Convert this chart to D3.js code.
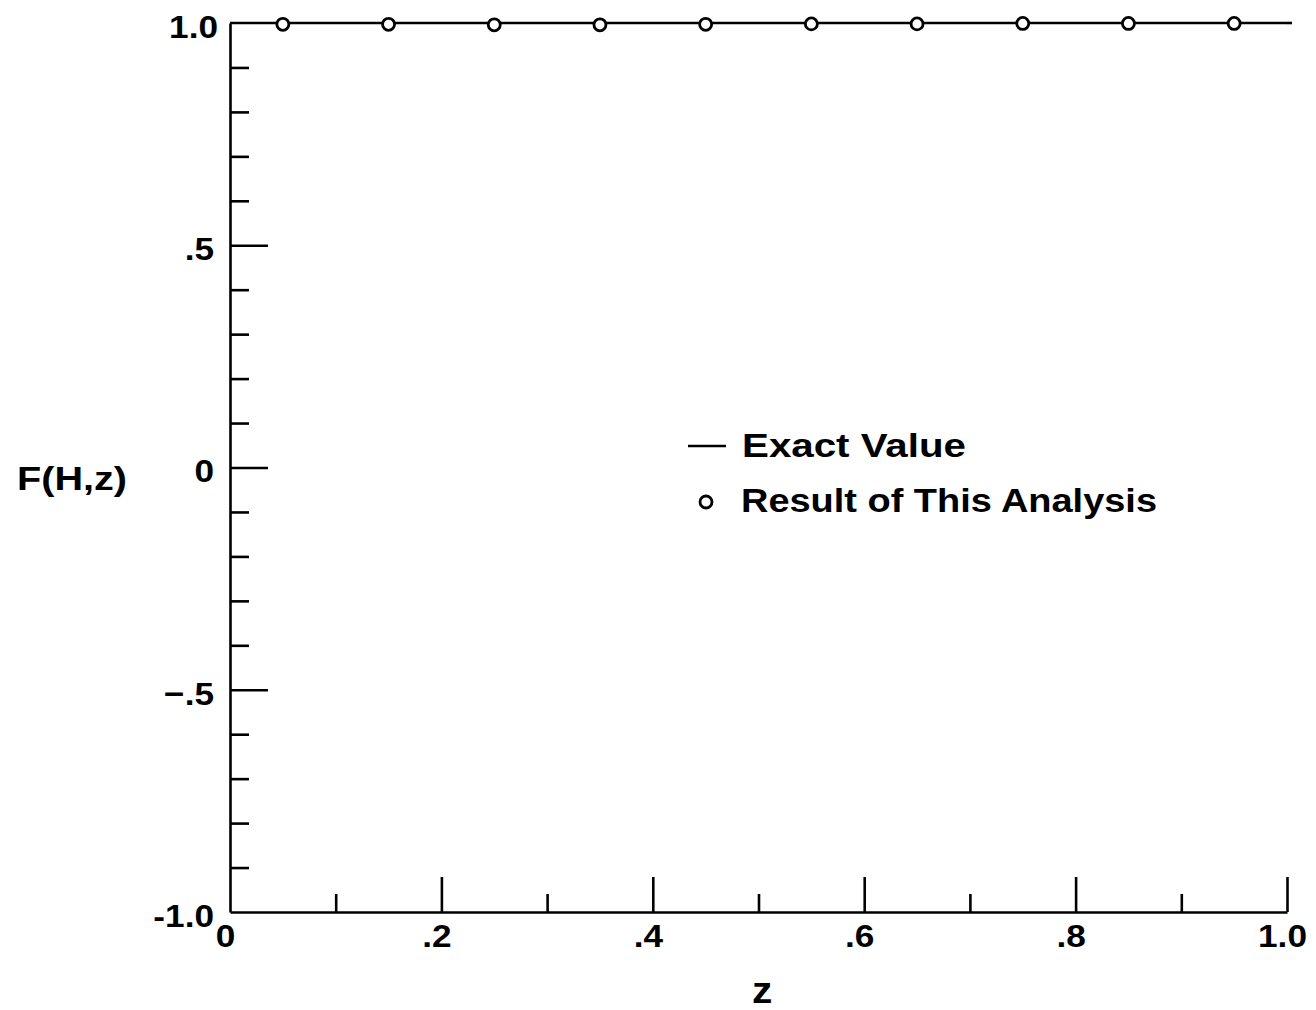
<!DOCTYPE html>
<html><head><meta charset="utf-8">
<script src="https://cdn.jsdelivr.net/npm/d3@7"></script>
<style>
body{margin:0;background:#fff;}
svg text{font-family:"Liberation Sans",Arial,sans-serif;font-weight:bold;fill:#000;}
</style></head>
<body>
<svg id="c" width="1316" height="1010"></svg>
<script>
// ---- data ----
const zPoints = [0.05,0.15,0.25,0.35,0.45,0.55,0.65,0.75,0.85,0.95];
const analysisValues = [0.997,0.997,0.996,0.996,0.997,0.998,0.998,0.999,0.999,0.999];
const exactZ = [0,1];
const exactValues = [1,1];
const yMajorTicks = [1,0.5,0,-0.5,-1];
const yMajorLabels = ["1.0",".5","0","\u2212.5","-1.0"];
const yMinorTicks = [0.9,0.8,0.7,0.6,0.4,0.3,0.2,0.1,-0.1,-0.2,-0.3,-0.4,-0.6,-0.7,-0.8,-0.9];
const xMajorTicks = [0,0.2,0.4,0.6,0.8,1.0];
const xMajorLabels = ["0",".2",".4",".6",".8","1.0"];
const xMinorTicks = [0.1,0.3,0.5,0.7,0.9];
const legendLabels = ["Exact Value","Result of This Analysis"];

// ---- layout ----
const svg = d3.select("#c");
const L = 230, R = 1287, T = 23, B = 912;
const x = d3.scaleLinear().domain([0,1]).range([L,R]);
const y = d3.scaleLinear().domain([-1,1]).range([B,T]);
const sw = 2.6;

function stretch(sel, f){
  sel.each(function(){
    const w = this.getComputedTextLength();
    d3.select(this).attr("lengthAdjust","spacingAndGlyphs").attr("textLength", w*f);
  });
}

// left axis (major ticks with labels)
const gy = svg.append("g").attr("transform",`translate(${L},0)`);
gy.call(d3.axisLeft(y).tickValues(yMajorTicks)
  .tickFormat((d,i)=>yMajorLabels[i]).tickSizeInner(-38).tickSizeOuter(0).tickPadding(16));
gy.select(".domain").attr("stroke-width",sw).attr("stroke","#000");
gy.selectAll(".tick line").attr("stroke-width",sw).attr("stroke","#000")
  .filter(d=>d===1||d===-1).remove();
gy.selectAll(".tick text").style("font-size","32px").attr("dy","0.45em")
  .attr("x", d=> d===1 ? -12 : -16);
stretch(gy.selectAll(".tick text"), 1.1);
// left minor ticks
const gym = svg.append("g").attr("transform",`translate(${L},0)`);
gym.call(d3.axisLeft(y).tickValues(yMinorTicks).tickFormat("").tickSizeInner(-19).tickSizeOuter(0));
gym.select(".domain").remove();
gym.selectAll(".tick line").attr("stroke-width",sw).attr("stroke","#000");

// bottom axis
const gx = svg.append("g").attr("transform",`translate(0,${B})`);
gx.call(d3.axisBottom(x).tickValues(xMajorTicks)
  .tickFormat((d,i)=>xMajorLabels[i]).tickSizeInner(-35).tickSizeOuter(0).tickPadding(12));
gx.select(".domain").attr("stroke-width",sw).attr("stroke","#000");
gx.selectAll(".tick line").attr("stroke-width",sw).attr("stroke","#000")
  .filter(d=>d===0).remove();
gx.selectAll(".tick text").style("font-size","32px").attr("x",-5);
stretch(gx.selectAll(".tick text"), 1.1);
const gxm = svg.append("g").attr("transform",`translate(0,${B})`);
gxm.call(d3.axisBottom(x).tickValues(xMinorTicks).tickFormat("").tickSizeInner(-18).tickSizeOuter(0));
gxm.select(".domain").remove();
gxm.selectAll(".tick line").attr("stroke-width",sw).attr("stroke","#000");

// exact line
const line = d3.line().x((d,i)=>x(exactZ[i])).y(d=>y(d));
svg.append("path").datum(exactValues).attr("d",line)
  .attr("fill","none").attr("stroke","#000").attr("stroke-width",sw);
svg.append("line").attr("x1",x(1)).attr("x2",x(1)+5).attr("y1",y(1)).attr("y2",y(1))
  .attr("stroke","#000").attr("stroke-width",sw);

// analysis points
svg.append("g").selectAll("circle").data(zPoints).join("circle")
  .attr("cx",d=>x(d)).attr("cy",(d,i)=>y(analysisValues[i]))
  .attr("r",6).attr("fill","#fff").attr("stroke","#000").attr("stroke-width",2.8);

// axis titles
const zt = svg.append("text").attr("x",752).attr("y",1003)
  .style("font-size","37px").text("z");
stretch(zt, 1.1);
svg.append("text").attr("x",17).attr("y",490)
  .style("font-size","34px").attr("lengthAdjust","spacingAndGlyphs").attr("textLength",110)
  .text("F(H,z)");

// legend
svg.append("line").attr("x1",688).attr("x2",726).attr("y1",446).attr("y2",446)
  .attr("stroke","#000").attr("stroke-width",sw);
svg.append("text").attr("x",742).attr("y",457).style("font-size","33px")
  .attr("lengthAdjust","spacingAndGlyphs").attr("textLength",224).text(legendLabels[0]);
svg.append("circle").attr("cx",706).attr("cy",502).attr("r",6)
  .attr("fill","#fff").attr("stroke","#000").attr("stroke-width",2.8);
svg.append("text").attr("x",741).attr("y",512).style("font-size","33px")
  .attr("lengthAdjust","spacingAndGlyphs").attr("textLength",416).text(legendLabels[1]);
</script>
</body></html>
